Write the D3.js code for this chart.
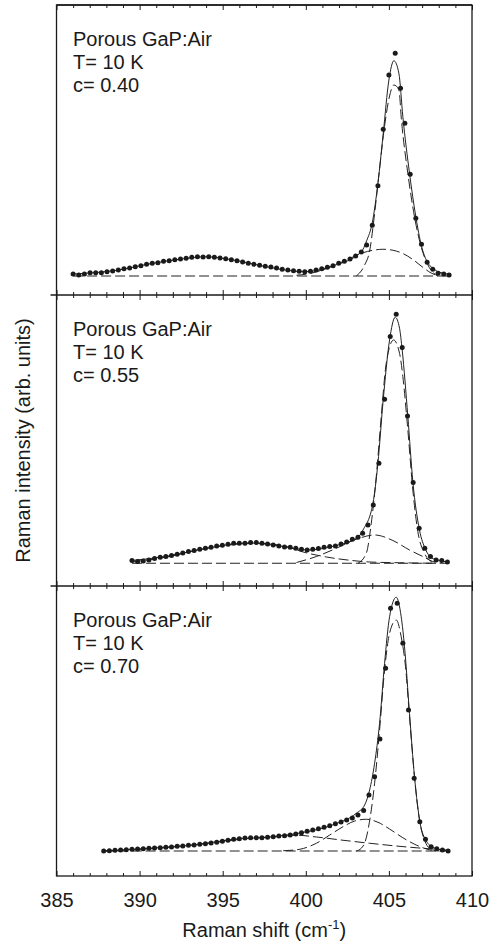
<!DOCTYPE html>
<html>
<head>
<meta charset="utf-8">
<script src="https://cdnjs.cloudflare.com/ajax/libs/d3/7.8.5/d3.min.js"></script>
<style>
    body { margin: 0; background: #ffffff; }
    svg text { font-family: "Liberation Sans", Arial, Helvetica, sans-serif; fill: #1a1a1a; }
</style>
</head>
<body>
<div id="chart"></div>
<script>
// axis ticks
var xMajorTicks = [385, 390, 395, 400, 405, 410];
var xMinorTicks = [386, 387, 388, 389, 391, 392, 393, 394, 396, 397, 398, 399,
    401, 402, 403, 404, 406, 407, 408, 409];

var panelLabels = [
    ["Porous GaP:Air", "T= 10 K", "c= 0.40"],
    ["Porous GaP:Air", "T= 10 K", "c= 0.55"],
    ["Porous GaP:Air", "T= 10 K", "c= 0.70"]
];

// c = 0.40 : measured points
var p1X = [386.00, 386.34, 386.68, 387.02, 387.36, 387.70, 388.04, 388.38, 388.72, 389.06,
    389.40, 389.74, 390.08, 390.42, 390.76, 391.10, 391.44, 391.78, 392.12, 392.46,
    392.80, 393.14, 393.48, 393.82, 394.16, 394.50, 394.84, 395.18, 395.52, 395.86,
    396.20, 396.54, 396.88, 397.22, 397.56, 397.90, 398.24, 398.58, 398.92, 399.26,
    399.60, 399.94, 400.28, 400.62, 400.96, 401.30, 401.64, 401.98, 402.32, 402.66,
    403.00, 403.34, 403.66, 404.00, 404.34, 404.66, 405.00, 405.38, 405.70, 405.96,
    406.28, 406.62, 406.96, 407.30, 407.64, 407.96, 408.30, 408.62];
var p1Y = [0.008, 0.004, 0.008, 0.013, 0.013, 0.013, 0.017, 0.020, 0.024, 0.029,
    0.032, 0.037, 0.041, 0.047, 0.051, 0.053, 0.059, 0.061, 0.065, 0.068,
    0.071, 0.075, 0.077, 0.076, 0.077, 0.075, 0.072, 0.069, 0.065, 0.061,
    0.056, 0.051, 0.047, 0.043, 0.039, 0.036, 0.032, 0.027, 0.024, 0.021,
    0.019, 0.017, 0.019, 0.024, 0.029, 0.035, 0.041, 0.051, 0.059, 0.068,
    0.080, 0.096, 0.124, 0.203, 0.361, 0.587, 0.804, 0.891, 0.751, 0.611,
    0.407, 0.231, 0.127, 0.055, 0.027, 0.011, 0.008, 0.004];

// c = 0.40 : fit curves
var p1Fit = [[386.00, 0.008], [388.64, 0.023], [390.64, 0.049], [392.64, 0.069], [393.98, 0.077],
    [395.64, 0.064], [397.64, 0.037], [399.94, 0.017], [401.64, 0.041], [403.34, 0.097],
    [403.66, 0.141], [404.00, 0.213], [404.34, 0.371], [404.66, 0.571], [405.00, 0.784],
    [405.30, 0.861], [405.60, 0.811], [405.84, 0.637], [406.24, 0.411], [406.62, 0.237],
    [406.96, 0.120], [407.30, 0.057], [407.64, 0.031], [407.96, 0.017], [408.30, 0.011],
    [408.74, 0.005]];
var p1Main = [[403.04, 0], [403.54, 0.044], [403.84, 0.10], [404.14, 0.25], [404.44, 0.43],
    [404.74, 0.60], [405.04, 0.72], [405.30, 0.764], [405.60, 0.745], [405.76, 0.62],
    [406.14, 0.41], [406.54, 0.237], [406.94, 0.117], [407.34, 0.045], [407.64, 0.015],
    [407.94, 0]];
var p1Broad = [[399.44, 0.003], [400.24, 0.010], [401.04, 0.025], [401.84, 0.045], [402.64, 0.070],
    [403.44, 0.093], [404.24, 0.105], [404.64, 0.107], [405.24, 0.103], [405.84, 0.090],
    [406.44, 0.066], [407.04, 0.035], [407.54, 0.012], [407.94, 0.002]];
var p1Base = [[386.00, 0], [408.70, 0]];

// c = 0.55 : measured points
var p2X = [389.54, 389.88, 390.22, 390.56, 390.90, 391.24, 391.58, 391.92, 392.26, 392.60,
    392.94, 393.28, 393.62, 393.96, 394.30, 394.64, 394.98, 395.32, 395.66, 396.00,
    396.34, 396.68, 397.02, 397.36, 397.70, 398.04, 398.38, 398.72, 399.06, 399.40,
    399.74, 400.08, 400.42, 400.76, 401.10, 401.44, 401.78, 402.12, 402.46, 402.80,
    403.14, 403.42, 403.74, 404.06, 404.40, 404.74, 405.08, 405.44, 405.80, 406.12,
    406.46, 406.82, 407.16, 407.50, 407.84, 408.18, 408.52];
var p2Y = [0.011, 0.007, 0.009, 0.013, 0.019, 0.024, 0.027, 0.031, 0.036, 0.041,
    0.047, 0.051, 0.056, 0.060, 0.064, 0.069, 0.072, 0.076, 0.080, 0.080,
    0.080, 0.083, 0.083, 0.080, 0.077, 0.073, 0.069, 0.065, 0.064, 0.060,
    0.056, 0.053, 0.056, 0.059, 0.064, 0.067, 0.069, 0.077, 0.085, 0.096,
    0.104, 0.120, 0.153, 0.233, 0.400, 0.656, 0.907, 0.996, 0.863, 0.589,
    0.323, 0.140, 0.060, 0.027, 0.013, 0.011, 0.005];

// c = 0.55 : fit curves
var p2Fit = [[389.54, 0.011], [391.64, 0.028], [393.64, 0.055], [396.64, 0.081], [398.64, 0.067],
    [400.08, 0.053], [401.64, 0.068], [403.14, 0.104], [403.44, 0.133], [404.04, 0.240],
    [404.34, 0.400], [404.64, 0.640], [405.04, 0.893], [405.38, 0.984], [405.64, 0.940],
    [405.80, 0.853], [406.14, 0.587], [406.44, 0.327], [406.84, 0.133], [407.20, 0.056],
    [407.54, 0.023], [408.04, 0.011], [408.54, 0.005]];
var p2Main = [[403.14, 0], [403.64, 0.04], [403.94, 0.16], [404.24, 0.347], [404.54, 0.587],
    [404.84, 0.80], [405.28, 0.893], [405.64, 0.84], [405.84, 0.747], [406.14, 0.533],
    [406.44, 0.293], [406.74, 0.127], [407.14, 0.04], [407.54, 0.007], [407.84, 0]];
var p2Broad = [[399.44, 0.003], [400.64, 0.027], [401.84, 0.060], [403.04, 0.096], [404.14, 0.113],
    [405.24, 0.091], [406.24, 0.053], [407.04, 0.027], [407.64, 0.007], [408.04, 0]];
var p2Low = [[389.54, 0.005], [391.64, 0.025], [393.64, 0.055], [395.64, 0.075], [397.04, 0.080],
    [398.64, 0.070], [399.84, 0.045], [401.24, 0.025], [402.64, 0.012], [403.84, 0.005],
    [405.64, 0.002], [407.64, 0]];
var p2Base = [[389.54, 0], [408.60, 0]];

// c = 0.70 : measured points
var p3X = [387.84, 388.18, 388.52, 388.86, 389.20, 389.54, 389.88, 390.22, 390.56, 390.90,
    391.24, 391.58, 391.92, 392.26, 392.60, 392.94, 393.28, 393.62, 393.96, 394.30,
    394.64, 394.98, 395.32, 395.66, 396.00, 396.34, 396.68, 397.02, 397.36, 397.70,
    398.04, 398.38, 398.72, 399.06, 399.40, 399.74, 400.08, 400.42, 400.76, 401.10,
    401.44, 401.78, 402.12, 402.46, 402.80, 403.14, 403.48, 403.80, 404.14, 404.46,
    404.80, 405.10, 405.50, 405.84, 406.18, 406.52, 406.86, 407.20, 407.54, 407.88,
    408.22, 408.56];
var p3Y = [0.000, 0.001, 0.003, 0.004, 0.005, 0.007, 0.008, 0.009, 0.011, 0.012,
    0.013, 0.015, 0.016, 0.019, 0.020, 0.023, 0.024, 0.027, 0.029, 0.032,
    0.035, 0.039, 0.043, 0.047, 0.049, 0.052, 0.053, 0.053, 0.053, 0.055,
    0.057, 0.060, 0.061, 0.064, 0.068, 0.073, 0.079, 0.084, 0.089, 0.095,
    0.101, 0.109, 0.116, 0.124, 0.132, 0.144, 0.162, 0.224, 0.297, 0.448,
    0.731, 0.971, 0.991, 0.831, 0.564, 0.291, 0.117, 0.047, 0.017, 0.009,
    0.004, 0.000];

// c = 0.70 : fit curves
var p3Fit = [[387.84, 0], [390.64, 0.011], [393.64, 0.027], [395.64, 0.047], [397.64, 0.055],
    [399.64, 0.072], [401.64, 0.105], [403.04, 0.151], [403.54, 0.184], [403.84, 0.244],
    [404.14, 0.351], [404.44, 0.511], [404.74, 0.751], [405.04, 0.937], [405.44, 1.015],
    [405.74, 0.937], [405.94, 0.817], [406.24, 0.551], [406.54, 0.297], [406.88, 0.111],
    [407.24, 0.041], [407.64, 0.015], [408.14, 0.005], [408.64, 0]];
var p3Main = [[403.04, 0], [403.34, 0.011], [403.60, 0.044], [403.88, 0.137], [404.14, 0.271],
    [404.44, 0.484], [404.74, 0.724], [405.04, 0.871], [405.44, 0.924], [405.74, 0.857],
    [406.00, 0.737], [406.24, 0.537], [406.54, 0.297], [406.84, 0.124], [407.14, 0.044],
    [407.44, 0.011], [407.84, 0]];
var p3Broad = [[398.64, 0.001], [399.64, 0.007], [400.64, 0.031], [401.44, 0.064], [402.24, 0.097],
    [402.94, 0.120], [403.64, 0.127], [404.34, 0.115], [405.04, 0.088], [405.84, 0.053],
    [406.64, 0.024], [407.44, 0.005], [408.04, 0]];
var p3Low = [[387.84, 0], [390.64, 0.009], [392.64, 0.020], [394.64, 0.035], [396.64, 0.051],
    [398.24, 0.057], [399.44, 0.063], [400.64, 0.056], [402.24, 0.043], [403.84, 0.031],
    [405.44, 0.020], [406.64, 0.013], [407.84, 0.007], [408.64, 0.003]];
var p3Base = [[387.84, 0], [408.60, 0]];

var panels = [
    {x: p1X, y: p1Y, fit: p1Fit, parts: [p1Base, p1Broad, p1Main], text: panelLabels[0]},
    {x: p2X, y: p2Y, fit: p2Fit, parts: [p2Base, p2Low, p2Broad, p2Main], text: panelLabels[1]},
    {x: p3X, y: p3Y, fit: p3Fit, parts: [p3Base, p3Low, p3Broad, p3Main], text: panelLabels[2]}
];

function drawRamanPanels(idName) {
    var width = 491;
    var height = 943;
    var left = 56.5;
    var right = 472;
    var panelTops = [5, 295, 586];
    var panelBottoms = [295, 586, 876];
    var yDomains = [[-0.076, 1.084], [-0.091, 1.073], [-0.1, 1.06]];

    var svg = d3.select( "#" + idName )
        .append( "svg" )
        .attr( "width", width )
        .attr( "height", height );

    var xScale = d3.scaleLinear()
        .domain( [385, 410] )
        .range( [left, right] );

    panels.forEach( function (p, i) {
        var top = panelTops[i];
        var bottom = panelBottoms[i];
        var yScale = d3.scaleLinear()
            .domain( yDomains[i] )
            .range( [bottom, top] );

        var line = d3.line()
            .x( function (d) { return xScale( d[0] ); } )
            .y( function (d) { return yScale( d[1] ); } )
            .curve( d3.curveMonotoneX );

        var g = svg.append( "g" );

        // fitted components (dashed)
        g.selectAll( "path.part" )
            .data( p.parts )
            .enter()
            .append( "path" )
            .attr( "class", "part" )
            .attr( "d", line )
            .attr( "fill", "none" )
            .attr( "stroke", "#222" )
            .attr( "stroke-width", 1 )
            .attr( "stroke-dasharray", "10,4" );

        // total fit (solid)
        g.append( "path" )
            .datum( p.fit )
            .attr( "d", line )
            .attr( "fill", "none" )
            .attr( "stroke", "#222" )
            .attr( "stroke-width", 1 );

        // measured points
        g.selectAll( "circle" )
            .data( p.x )
            .enter()
            .append( "circle" )
            .attr( "cx", function (d) { return xScale( d ); } )
            .attr( "cy", function (d, k) { return yScale( p.y[k] ); } )
            .attr( "r", 2.5 )
            .attr( "fill", "#1a1a1a" );

        // inward ticks on top and bottom edges
        [[xMinorTicks, 3], [xMajorTicks, 5]].forEach( function (t) {
            g.append( "g" )
                .attr( "transform", "translate(0," + top + ")" )
                .call( d3.axisTop( xScale ).tickValues( t[0] ).tickSize( -t[1] ).tickFormat( "" ) )
                .call( function (a) { a.select( ".domain" ).remove(); } );
            g.append( "g" )
                .attr( "transform", "translate(0," + bottom + ")" )
                .call( d3.axisBottom( xScale ).tickValues( t[0] ).tickSize( -t[1] ).tickFormat( "" ) )
                .call( function (a) { a.select( ".domain" ).remove(); } );
        } );

        // panel text
        g.selectAll( "text.label" )
            .data( p.text )
            .enter()
            .append( "text" )
            .attr( "class", "label" )
            .attr( "x", 73 )
            .attr( "y", function (d, k) { return top + 41 + k * 23; } )
            .style( "font-size", "20px" )
            .text( function (d) { return d; } );

        // separators / frame edges
        svg.append( "line" )
            .attr( "x1", i === 0 ? left : left - 6 )
            .attr( "x2", right )
            .attr( "y1", top )
            .attr( "y2", top )
            .attr( "stroke", "#1a1a1a" )
            .attr( "stroke-width", 1.3 );
    } );

    svg.selectAll( ".tick line" ).attr( "stroke", "#1a1a1a" ).attr( "stroke-width", 1 );

    // outer frame
    svg.append( "rect" )
        .attr( "x", left )
        .attr( "y", panelTops[0] )
        .attr( "width", right - left )
        .attr( "height", panelBottoms[2] - panelTops[0] )
        .attr( "fill", "none" )
        .attr( "stroke", "#1a1a1a" )
        .attr( "stroke-width", 1.3 );

    // x tick labels
    svg.append( "g" )
        .attr( "transform", "translate(0," + panelBottoms[2] + ")" )
        .call( d3.axisBottom( xScale ).tickValues( xMajorTicks ).tickSize( 0 ).tickPadding( 17 ) )
        .call( function (a) {
            a.select( ".domain" ).remove();
            a.selectAll( "text" )
                .style( "font-size", "20px" )
                .style( "font-family", "'Liberation Sans', Arial, sans-serif" )
                .attr( "fill", "#1a1a1a" );
        } );

    // axis titles
    var xTitle = svg.append( "text" )
        .attr( "x", (left + right) / 2 )
        .attr( "y", 937 )
        .style( "text-anchor", "middle" )
        .style( "font-size", "20px" );
    xTitle.append( "tspan" ).text( "Raman shift (cm" );
    xTitle.append( "tspan" ).attr( "dy", -8 ).style( "font-size", "13px" ).text( "-1" );
    xTitle.append( "tspan" ).attr( "dy", 8 ).text( ")" );

    svg.append( "text" )
        .attr( "transform", "translate(30," + ((panelTops[0] + panelBottoms[2]) / 2) + ") rotate(-90)" )
        .style( "text-anchor", "middle" )
        .style( "font-size", "20px" )
        .text( "Raman intensity (arb. units)" );
}

drawRamanPanels( "chart" );
</script>
</body>
</html>
